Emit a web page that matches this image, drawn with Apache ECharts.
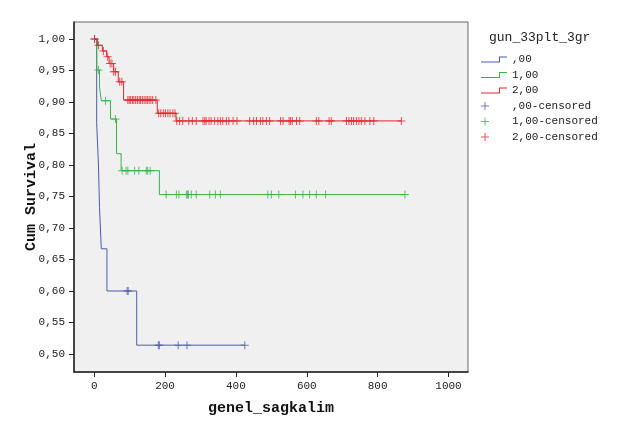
<!DOCTYPE html>
<html>
<head>
<meta charset="utf-8">
<script src="https://cdn.jsdelivr.net/npm/echarts@6/dist/echarts.min.js"></script>
<style>
html,body{margin:0;padding:0;background:#fff;}
#c{width:624px;height:425px;}
</style>
</head>
<body>
<div id="c"></div>
<script>
// ---- data ----
var groupNames = [',00', '1,00', '2,00'];
var censorNames = [',00-censored', '1,00-censored', '2,00-censored'];
var xTicks = [0, 200, 400, 600, 800, 1000];
var yTicks = [0.50, 0.55, 0.60, 0.65, 0.70, 0.75, 0.80, 0.85, 0.90, 0.95, 1.00];

// step events: time and survival after the event
var blueTimes = [0, 7, 12, 15, 20, 36, 120];
var blueSurv  = [1.000, 0.867, 0.800, 0.733, 0.667, 0.600, 0.514];
var blueEnd = 425;
var blueCensor = [1, 93, 96, 181, 184, 237, 262, 425];

var greenTimes = [0, 7, 15, 20, 46, 63, 76, 184];
var greenSurv  = [1.000, 0.951, 0.924, 0.902, 0.873, 0.818, 0.791, 0.753];
var greenEnd = 877;
var greenCensor = [12, 32, 60, 79, 90, 95, 114, 126, 147, 151, 158,
  203, 232, 239, 260, 263, 266, 274, 288, 326, 342, 356, 490, 500, 521, 568, 589, 608, 627, 653, 877];

var redTimes = [0, 9, 23, 35, 42, 55, 68, 83, 178, 231];
var redSurv  = [1.000, 0.990, 0.981, 0.972, 0.961, 0.948, 0.932, 0.903, 0.882, 0.870];
var redEnd = 868;
var redCensor = [1, 12, 26, 38, 45, 50, 55, 60, 72, 78,
  95, 99, 103, 108, 112, 117, 122, 127, 131, 136, 141, 146, 150, 155, 160, 165, 174,
  182, 188, 195, 201, 208, 214, 222, 228,
  233, 241, 250, 267, 277, 288, 307, 312, 316, 324, 330, 340, 349, 356, 363, 373, 380, 392, 403,
  439, 450, 458, 469, 476, 486, 495, 526, 533, 550, 554, 559, 571, 580, 627, 634, 663, 669,
  712, 719, 726, 732, 740, 747, 754, 764, 778, 789, 867];

var colors = ['#4b5cb0', '#3cb04a', '#e3262e'];

// ---- build series ----
function stepData(times, surv, end) {
  var d = [];
  for (var i = 0; i < times.length; i++) d.push([times[i], surv[i]]);
  d.push([end, surv[surv.length - 1]]);
  return d;
}
function survAt(times, surv, t) {
  var s = surv[0];
  for (var i = 0; i < times.length; i++) { if (times[i] <= t) s = surv[i]; }
  return s;
}
function censorData(times, surv, cens) {
  return cens.map(function (t) { return [t, survAt(times, surv, t)]; });
}

var plusPath = 'path://M3.5,0 L4.5,0 L4.5,3.5 L8,3.5 L8,4.5 L4.5,4.5 L4.5,8 L3.5,8 L3.5,4.5 L0,4.5 L0,3.5 L3.5,3.5 Z';
var plusLegend = 'path://M3.5,0 L4.5,0 L4.5,3.5 L8,3.5 L8,4.5 L4.5,4.5 L4.5,8 L3.5,8 L3.5,4.5 L0,4.5 L0,3.5 L3.5,3.5 Z M26,4 L26,4 Z';
var stepLegend = 'path://M0,5 L18,5 L18,0 L26,0 L26,1 L19,1 L19,6 L0,6 Z';

var sets = [
  [blueTimes, blueSurv, blueEnd, blueCensor],
  [greenTimes, greenSurv, greenEnd, greenCensor],
  [redTimes, redSurv, redEnd, redCensor]
];
var series = [];
sets.forEach(function (s, i) {
  series.push({
    name: groupNames[i], type: 'line', step: 'end', symbol: 'none',
    data: stepData(s[0], s[1], s[2]),
    lineStyle: { color: colors[i], width: 1 }, itemStyle: { color: colors[i] },
    animation: false, z: 2 + i
  });
});
sets.forEach(function (s, i) {
  series.push({
    name: censorNames[i], type: 'scatter', symbol: plusPath, symbolSize: [8, 8],
    data: censorData(s[0], s[1], s[3]),
    itemStyle: { color: colors[i] }, animation: false, z: 5 + i
  });
});

var monoFont = '"Liberation Mono", "DejaVu Sans Mono", monospace';
var chart = echarts.init(document.getElementById('c'), null, { renderer: 'canvas' });
chart.setOption({
  backgroundColor: '#ffffff',
  animation: false,
  title: {
    text: 'gun_33plt_3gr', left: 484, top: 26,
    textStyle: { fontFamily: monoFont, fontSize: 13, fontWeight: 'normal', color: '#222' }
  },
  legend: {
    orient: 'vertical', left: 476, top: 49,
    itemWidth: 26, itemHeight: 11, itemGap: 4.5,
    symbolKeepAspect: true,
    itemStyle: { borderWidth: 0 },
    textStyle: { fontFamily: monoFont, fontSize: 11, color: '#222' },
    data: [
      { name: groupNames[0], icon: stepLegend },
      { name: groupNames[1], icon: stepLegend },
      { name: groupNames[2], icon: stepLegend },
      { name: censorNames[0], icon: plusLegend },
      { name: censorNames[1], icon: plusLegend },
      { name: censorNames[2], icon: plusLegend }
    ]
  },
  grid: {
    left: 74, right: 156, top: 22, bottom: 53,
    show: true, backgroundColor: '#f0f0f0', borderColor: '#666', borderWidth: 1,
    outerBoundsMode: 'none'
  },
  xAxis: {
    type: 'value', min: -57, max: 1055,
    name: 'genel_sagkalim', nameLocation: 'middle', nameGap: 29, nameMoveOverlap: false,
    nameTextStyle: { fontFamily: monoFont, fontSize: 15, fontWeight: 'bold', color: '#111' },
    splitLine: { show: false },
    axisLine: { show: true, onZero: false, lineStyle: { color: '#222', width: 1.5 } },
    axisTick: { show: true, length: 5, customValues: xTicks, lineStyle: { color: '#222' } },
    axisLabel: { customValues: xTicks, margin: 9, fontFamily: monoFont, fontSize: 11, color: '#222',
      formatter: function (v) { return String(Math.round(v)); } }
  },
  yAxis: {
    type: 'value', min: 0.4714, max: 1.027,
    name: 'Cum Survival', nameLocation: 'middle', nameGap: 35, nameRotate: 90, nameMoveOverlap: false,
    nameTextStyle: { fontFamily: monoFont, fontSize: 15, fontWeight: 'bold', color: '#111' },
    splitLine: { show: false },
    axisLine: { show: true, onZero: false, lineStyle: { color: '#222', width: 1.5 } },
    axisTick: { show: true, length: 5, customValues: yTicks, lineStyle: { color: '#222' } },
    axisLabel: { customValues: yTicks, margin: 9, fontFamily: monoFont, fontSize: 11, color: '#222',
      formatter: function (v) { return v.toFixed(2).replace('.', ','); } }
  },
  series: series
});
</script>
</body>
</html>
